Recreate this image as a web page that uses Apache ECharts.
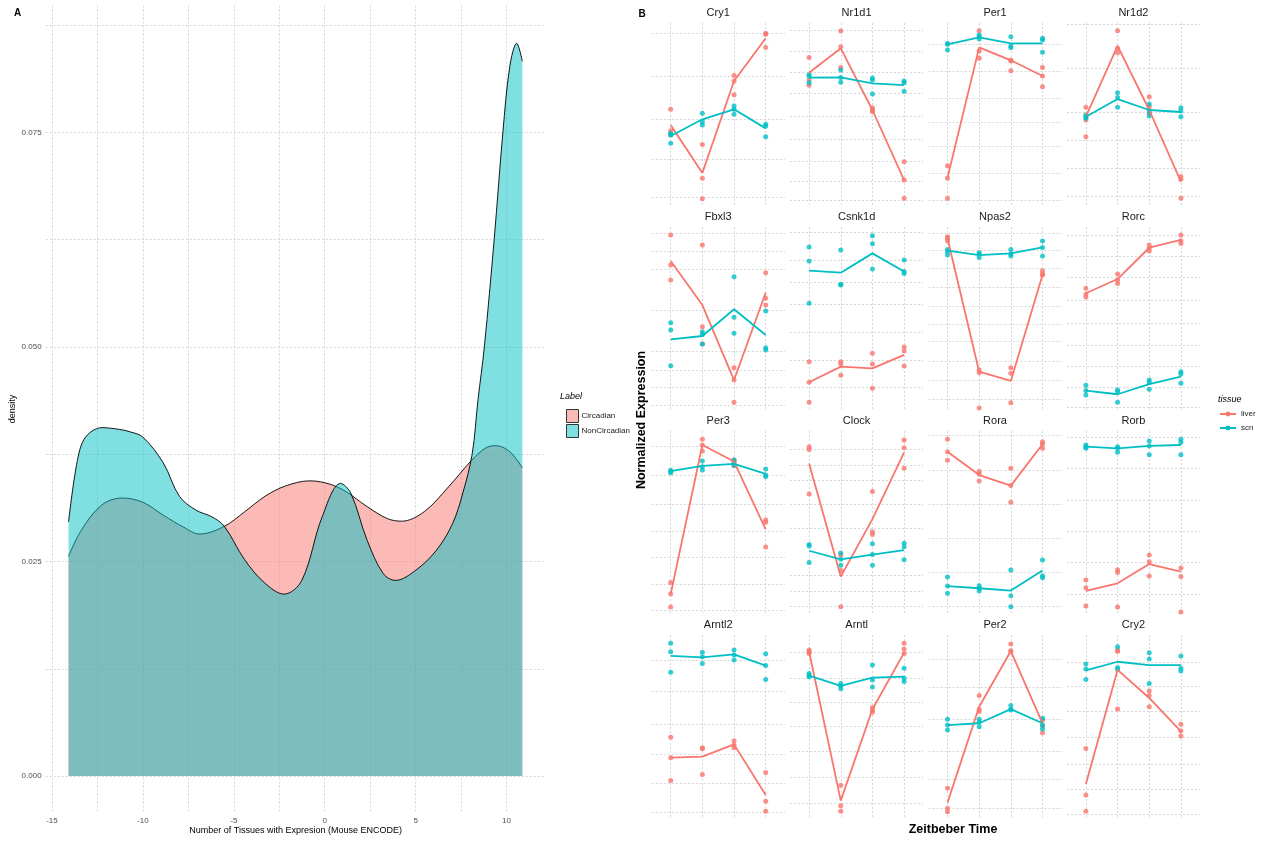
<!DOCTYPE html>
<html><head><meta charset="utf-8">
<script src="https://cdn.jsdelivr.net/npm/echarts@6/dist/echarts.min.js"></script>
<style>html,body{margin:0;padding:0;background:#fff}#c{width:1266px;height:841px}</style>
</head><body><div id="c"></div>
<script>
// ---------- Panel A: density curves ----------
const circX = [-14.09,-13.37,-12.25,-11.13,-10.0,-8.88,-7.76,-6.87,-5.52,-4.4,-3.28,-2.16,-0.81,0.31,1.2,2.33,3.45,4.23,5.47,6.81,8.04,8.83,9.39,10.18,10.87];
const circY = [0.0256,0.0287,0.0316,0.0324,0.0319,0.0304,0.0290,0.0282,0.0291,0.0308,0.0326,0.0338,0.0344,0.0340,0.0331,0.0314,0.0300,0.0297,0.0308,0.0337,0.0367,0.0382,0.0385,0.0378,0.0359];
const nonX = [-14.09,-13.6,-13.15,-12.25,-11.3,-10.68,-10.0,-8.88,-7.99,-7.09,-6.2,-5.52,-4.4,-3.3,-2.23,-1.26,-0.14,0.87,1.43,2.33,3.22,3.9,5.02,6.14,7.03,7.6,8.11,8.43,8.78,9.32,9.80,10.18,10.56,10.87];
const nonY = [0.0296,0.0368,0.0395,0.0406,0.0404,0.0401,0.0395,0.0365,0.0326,0.0310,0.0302,0.0291,0.0252,0.0225,0.0212,0.0228,0.0302,0.0341,0.0330,0.0275,0.0236,0.0228,0.0240,0.0263,0.0294,0.0330,0.0375,0.0438,0.0500,0.0625,0.0750,0.0827,0.0854,0.0833];
const aXTicks = [-15,-12.5,-10,-7.5,-5,-2.5,0,2.5,5,7.5,10];
const aXLabels = [-15,-10,-5,0,5,10];
const aYTicks = [0,0.0125,0.025,0.0375,0.05,0.0625,0.075,0.0875];
const aYLabels = [0,0.025,0.05,0.075];

// ---------- Panel B: expression per gene (replicates per time point) ----------
const times = [1,2,3,4];
const genes = ['Cry1','Nr1d1','Per1','Nr1d2','Fbxl3','Csnk1d','Npas2','Rorc','Per3','Clock','Rora','Rorb','Arntl2','Arntl','Per2','Cry2'];

const Cry1_liver = [[5.26,4.08,3.85],[3.32,1.47,0.35],[7.12,6.81,6.06],[9.43,9.38,8.66]];
const Cry1_liverMean = [4.40,1.76,6.81,9.16];
const Cry1_scn = [[3.94,3.85,3.39],[5.04,4.58,4.40],[5.44,5.26,4.98],[4.43,4.34,3.75]];
const Cry1_scnMean = [3.79,4.71,5.26,4.21];
const Cry1_grid = [0.42,2.53,4.71,7.05,9.43];

const Nr1d1_liver = [[8.11,6.87,6.58],[9.56,8.70,7.55],[5.35,5.22,5.13],[2.38,1.37,0.37]];
const Nr1d1_liverMean = [7.27,8.61,5.22,1.37];
const Nr1d1_scn = [[7.16,7.09,6.72],[7.42,7.00,6.74],[6.98,6.87,6.10],[6.81,6.72,6.25]];
const Nr1d1_scnMean = [7.00,7.01,6.68,6.59];
const Nr1d1_grid = [0.27,1.28,2.42,3.61,4.87,6.12,7.29,8.46,9.62];

const Per1_liver = [[2.16,1.47,0.37],[9.58,8.46,8.06],[7.97,7.91,7.38],[7.55,7.09,6.50]];
const Per1_liverMean = [1.50,8.66,7.95,7.09];
const Per1_scn = [[8.88,8.83,8.52],[9.34,9.25,9.12],[9.25,8.74,8.64],[9.16,9.07,8.39]];
const Per1_scnMean = [8.83,9.21,8.88,8.88];
const Per1_grid = [0.27,1.74,3.21,4.52,5.86,7.33,8.83];

const Nr1d2_liver = [[5.37,4.67,3.75],[9.58,8.61,8.37],[5.95,5.40,5.04],[1.56,1.41,0.37]];
const Nr1d2_liverMean = [4.85,8.74,5.22,1.28];
const Nr1d2_scn = [[4.95,4.85,4.76],[6.17,5.90,5.37],[5.55,5.13,4.89],[5.35,5.16,4.85]];
const Nr1d2_scnMean = [4.85,5.82,5.22,5.11];
const Nr1d2_grid = [0.49,2.01,3.57,5.09,7.51,9.95];

const Fbxl3_liver = [[9.56,7.91,7.09],[9.01,4.52,3.57],[2.27,1.59,0.37],[7.49,6.08,5.71]];
const Fbxl3_liverMean = [8.13,5.71,1.59,6.39];
const Fbxl3_scn = [[4.74,4.34,2.38],[4.25,4.10,3.57],[7.27,5.04,4.16],[5.38,3.37,3.24]];
const Fbxl3_scnMean = [3.83,4.01,5.48,4.07];
const Fbxl3_grid = [0.22,1.17,2.14,3.15,5.40,7.69,8.68,9.65];

const Csnk1d_liver = [[2.60,1.47,0.37],[2.60,2.47,1.85],[3.06,2.47,1.14],[3.41,3.19,2.36]];
const Csnk1d_liverMean = [1.47,2.33,2.23,2.97];
const Csnk1d_scn = [[8.90,8.13,5.81],[8.74,6.85,6.81],[9.52,9.08,7.69],[8.19,7.55,7.45]];
const Csnk1d_scnMean = [7.60,7.49,8.55,7.55];
const Csnk1d_grid = [1.17,2.67,4.21,5.75,6.94,8.19,9.71];

const Npas2_liver = [[9.47,9.38,9.25],[2.14,1.99,0.05],[2.27,1.96,0.35],[7.60,7.42,7.36]];
const Npas2_liverMean = [9.38,2.05,1.54,7.36];
const Npas2_scn = [[8.77,8.64,8.46],[8.59,8.52,8.32],[8.77,8.52,8.41],[9.23,8.88,8.41]];
const Npas2_scnMean = [8.70,8.46,8.55,8.88];
const Npas2_grid = [0.53,1.59,2.64,3.70,4.65,5.62,6.68,7.73,8.70,9.65];

const Rorc_liver = [[6.63,6.30,6.15],[7.42,7.09,6.90],[9.01,8.83,8.68],[9.56,9.25,9.10]];
const Rorc_liverMean = [6.36,7.14,8.86,9.29];
const Rorc_scn = [[1.31,1.01,0.77],[1.04,0.95,0.37],[1.59,1.45,1.08],[2.05,1.92,1.41]];
const Rorc_scnMean = [1.01,0.81,1.37,1.78];
const Rorc_grid = [0.1,1.19,2.36,3.52,4.71,5.99,7.22,8.37,9.56];

const Per3_liver = [[1.67,1.04,0.33],[9.54,9.23,8.90],[8.41,8.28,8.10],[5.11,4.98,3.63]];
const Per3_liverMean = [1.04,9.23,8.32,4.60];
const Per3_scn = [[7.84,7.77,7.71],[8.35,8.04,7.86],[8.41,8.22,8.10],[7.91,7.58,7.49]];
const Per3_scnMean = [7.80,8.08,8.19,7.64];
const Per3_grid = [0.13,1.58,3.04,4.51,5.97,7.55,9.14];

const Clock_liver = [[9.14,8.99,6.54],[3.19,2.33,0.35],[6.67,4.47,4.32],[9.51,9.08,7.95]];
const Clock_liverMean = [8.22,2.00,5.16,8.83];
const Clock_scn = [[3.77,3.68,2.78],[3.30,2.95,2.62],[3.81,3.21,2.62],[3.83,3.64,2.93]];
const Clock_scnMean = [3.42,2.95,3.21,3.46];
const Clock_grid = [0.35,1.21,2.05,4.65,5.97,7.27,8.10,8.99];

const Rora_liver = [[9.54,8.86,8.39],[7.77,7.64,7.25],[7.95,7.00,6.08],[9.41,9.29,9.05]];
const Rora_liverMean = [8.86,7.58,7.00,9.27];
const Rora_scn = [[1.98,1.48,1.08],[1.50,1.36,1.21],[2.36,0.95,0.35],[2.91,2.05,1.94]];
const Rora_scnMean = [1.48,1.36,1.23,2.33];
const Rora_grid = [0.35,2.22,4.10,5.99,7.86,9.74];

const Rorb_liver = [[1.81,1.39,0.38],[2.38,2.22,0.33],[3.19,2.82,2.03],[2.47,2.00,0.05]];
const Rorb_liverMean = [1.21,1.63,2.69,2.27];
const Rorb_scn = [[9.23,9.14,9.05],[9.14,9.05,8.83],[9.45,9.18,8.70],[9.54,9.38,8.70]];
const Rorb_scnMean = [9.14,9.05,9.18,9.23];
const Rorb_grid = [1.04,2.77,4.47,6.21,7.95,9.65];

const Arntl2_liver = [[4.38,3.26,2.01],[3.81,3.75,2.33],[4.19,3.96,3.81],[2.45,0.86,0.31]];
const Arntl2_liverMean = [3.26,3.32,3.99,1.21];
const Arntl2_scn = [[9.54,9.08,7.95],[9.05,8.81,8.44],[9.18,8.90,8.63],[8.97,8.32,7.56]];
const Arntl2_scnMean = [8.85,8.77,8.94,8.32];
const Arntl2_grid = [0.24,1.85,3.46,5.09,6.89,8.63];

const Arntl_liver = [[9.18,9.08,8.99],[1.74,0.62,0.31],[6.01,5.88,5.75],[9.54,9.23,8.99]];
const Arntl_liverMean = [9.08,0.90,5.92,9.03];
const Arntl_scn = [[7.89,7.78,7.71],[7.34,7.20,7.05],[8.35,7.53,7.14],[8.17,7.62,7.44]];
const Arntl_scnMean = [7.77,7.20,7.66,7.71];
const Arntl_grid = [0.75,2.18,3.59,5.00,6.30,7.62,9.03];

const Per2_liver = [[1.58,0.48,0.29],[6.68,5.92,5.79],[9.51,9.14,9.08],[5.33,5.02,4.63]];
const Per2_liverMean = [0.79,6.06,9.12,5.15];
const Per2_scn = [[5.37,5.05,4.78],[5.37,5.20,4.96],[6.12,5.92,5.88],[5.42,5.05,4.84]];
const Per2_scnMean = [5.05,5.15,5.93,5.15];
const Per2_grid = [0.48,2.07,3.63,5.38,7.11,8.68];

const Cry2_liver = [[3.77,1.21,0.31],[9.18,9.10,5.93],[6.92,6.68,6.06],[5.09,4.73,4.45]];
const Cry2_liverMean = [1.81,8.08,6.54,4.71];
const Cry2_scn = [[8.41,8.13,7.56],[9.36,8.21,8.11],[9.03,8.68,7.34],[8.85,8.17,8.02]];
const Cry2_scnMean = [8.05,8.53,8.35,8.35];
const Cry2_grid = [0.16,1.52,2.89,4.36,5.79,7.16,8.53];

const geneData = {
  Cry1:[Cry1_liver,Cry1_liverMean,Cry1_scn,Cry1_scnMean,Cry1_grid],
  Nr1d1:[Nr1d1_liver,Nr1d1_liverMean,Nr1d1_scn,Nr1d1_scnMean,Nr1d1_grid],
  Per1:[Per1_liver,Per1_liverMean,Per1_scn,Per1_scnMean,Per1_grid],
  Nr1d2:[Nr1d2_liver,Nr1d2_liverMean,Nr1d2_scn,Nr1d2_scnMean,Nr1d2_grid],
  Fbxl3:[Fbxl3_liver,Fbxl3_liverMean,Fbxl3_scn,Fbxl3_scnMean,Fbxl3_grid],
  Csnk1d:[Csnk1d_liver,Csnk1d_liverMean,Csnk1d_scn,Csnk1d_scnMean,Csnk1d_grid],
  Npas2:[Npas2_liver,Npas2_liverMean,Npas2_scn,Npas2_scnMean,Npas2_grid],
  Rorc:[Rorc_liver,Rorc_liverMean,Rorc_scn,Rorc_scnMean,Rorc_grid],
  Per3:[Per3_liver,Per3_liverMean,Per3_scn,Per3_scnMean,Per3_grid],
  Clock:[Clock_liver,Clock_liverMean,Clock_scn,Clock_scnMean,Clock_grid],
  Rora:[Rora_liver,Rora_liverMean,Rora_scn,Rora_scnMean,Rora_grid],
  Rorb:[Rorb_liver,Rorb_liverMean,Rorb_scn,Rorb_scnMean,Rorb_grid],
  Arntl2:[Arntl2_liver,Arntl2_liverMean,Arntl2_scn,Arntl2_scnMean,Arntl2_grid],
  Arntl:[Arntl_liver,Arntl_liverMean,Arntl_scn,Arntl_scnMean,Arntl_grid],
  Per2:[Per2_liver,Per2_liverMean,Per2_scn,Per2_scnMean,Per2_grid],
  Cry2:[Cry2_liver,Cry2_liverMean,Cry2_scn,Cry2_scnMean,Cry2_grid]
};

// ---------- build chart ----------
const FONT = '"Liberation Sans", Arial, sans-serif';
const RED = '#F8766D', CYAN = '#00BFC4';
const gridLine = {show:true, lineStyle:{color:'#cccccc', width:0.8, type:[2,2]}};

const grids = [], xAxes = [], yAxes = [], series = [], graphics = [];

// Panel A
grids.push({left:45.6, top:5.5, width:500, height:807.4});
xAxes.push({gridIndex:0, type:'value', min:-15.35, max:12.15,
  axisLine:{show:false}, axisTick:{show:false, customValues:aXTicks},
  axisLabel:{show:true, customValues:aXLabels, fontSize:8, color:'#4d4d4d', fontFamily:FONT, margin:4},
  splitLine:gridLine});
yAxes.push({gridIndex:0, type:'value', min:-0.0043, max:0.0898,
  axisLine:{show:false}, axisTick:{show:false, customValues:aYTicks},
  axisLabel:{show:true, customValues:aYLabels, fontSize:8, color:'#4d4d4d', fontFamily:FONT, margin:4,
    formatter:v=>Number(v).toFixed(3)},
  splitLine:gridLine});
const zip = (xs, ys) => xs.map((x,i)=>[x, ys[i]]);
series.push({name:'Circadian', type:'line', xAxisIndex:0, yAxisIndex:0, data:zip(circX,circY),
  smooth:0.35, showSymbol:false, symbol:'none', lineStyle:{color:'#000', width:0.9},
  itemStyle:{color:RED}, areaStyle:{color:RED, opacity:0.5}, z:2, silent:true});
series.push({name:'NonCircadian', type:'line', xAxisIndex:0, yAxisIndex:0, data:zip(nonX,nonY),
  smooth:0.35, showSymbol:false, symbol:'none', lineStyle:{color:'#000', width:0.9},
  itemStyle:{color:CYAN}, areaStyle:{color:CYAN, opacity:0.5}, z:3, silent:true});

// Panel B facets
const colLeft = [651.7, 790.1, 928.5, 1066.9];
const rowTop = [23, 227, 431, 635];
const FW = 133, FH = 182;
const lineSeries = [], pointSeries = [];
genes.forEach((g, i) => {
  const r = Math.floor(i/4), c = i%4;
  const gi = i + 1;
  const [liver, liverMean, scn, scnMean, gridVals] = geneData[g];
  grids.push({left:colLeft[c], top:rowTop[r], width:FW, height:FH});
  xAxes.push({gridIndex:gi, type:'value', min:0.4, max:4.6,
    axisLine:{show:false}, axisTick:{show:false, customValues:times}, axisLabel:{show:false}, splitLine:gridLine});
  yAxes.push({gridIndex:gi, type:'value', min:0, max:10,
    axisLine:{show:false}, axisTick:{show:false, customValues:gridVals}, axisLabel:{show:false}, splitLine:gridLine});
  const pts = reps => { const out=[]; reps.forEach((vals,t)=>vals.forEach(v=>out.push([times[t], v]))); return out; };
  pointSeries.push({name:'liver', type:'scatter', xAxisIndex:gi, yAxisIndex:gi, data:pts(liver), symbolSize:5, itemStyle:{color:RED}, z:2, silent:true});
  pointSeries.push({name:'scn', type:'scatter', xAxisIndex:gi, yAxisIndex:gi, data:pts(scn), symbolSize:5, itemStyle:{color:CYAN}, z:2, silent:true});
  lineSeries.push({name:'liver', type:'line', xAxisIndex:gi, yAxisIndex:gi, data:zip(times, liverMean), symbol:'circle', symbolSize:5, showSymbol:false,
    lineStyle:{color:RED, width:1.8}, itemStyle:{color:RED}, z:3, silent:true});
  lineSeries.push({name:'scn', type:'line', xAxisIndex:gi, yAxisIndex:gi, data:zip(times, scnMean), symbol:'circle', symbolSize:5, showSymbol:false,
    lineStyle:{color:CYAN, width:1.8}, itemStyle:{color:CYAN}, z:3, silent:true});
  graphics.push({type:'text', x:colLeft[c]+FW/2, y:rowTop[r]-10.5, silent:true,
    style:{text:g, font:'11px '+FONT, fill:'#1a1a1a', align:'center', verticalAlign:'middle'}});
});
series.push(...lineSeries, ...pointSeries);

// Texts
const T = (text, x, y, font, extra) => Object.assign({type:'text', x, y, silent:true,
  style:{text, font, fill:'#000', align:'center', verticalAlign:'middle'}}, extra||{});
graphics.push(T('A', 17.5, 13, 'bold 10px '+FONT));
graphics.push(T('B', 642, 14, 'bold 10px '+FONT));
graphics.push(T('density', 13, 409, '9px '+FONT, {rotation:Math.PI/2}));
graphics.push(T('Number of Tissues with Expresion (Mouse ENCODE)', 295.6, 831, '9px '+FONT));
graphics.push(T('Normalized Expression', 642, 420, 'bold 12.5px '+FONT, {rotation:Math.PI/2}));
graphics.push(T('Zeitbeber Time', 953, 830, 'bold 12.5px '+FONT));
graphics.push({type:'text', x:560, y:396, silent:true, style:{text:'Label', font:'italic 9px '+FONT, fill:'#000', align:'left', verticalAlign:'middle'}});
graphics.push({type:'text', x:1218, y:399, silent:true, style:{text:'tissue', font:'italic 9px '+FONT, fill:'#000', align:'left', verticalAlign:'middle'}});

const option = {
  animation:false,
  backgroundColor:'#ffffff',
  grid:grids, xAxis:xAxes, yAxis:yAxes, series,
  legend:[
    {orient:'vertical', left:561, top:404, itemWidth:12, itemHeight:13, itemGap:1, icon:'rect', selectedMode:false,
     textStyle:{fontSize:8, color:'#1a1a1a', fontFamily:FONT, padding:[0,0,0,-2]},
     data:[{name:'Circadian', itemStyle:{color:'rgba(248,118,109,0.5)', borderColor:'#333', borderWidth:1}},
           {name:'NonCircadian', itemStyle:{color:'rgba(0,191,196,0.5)', borderColor:'#333', borderWidth:1}}]},
    {orient:'vertical', left:1214, top:405, itemWidth:16, itemHeight:6, itemGap:6, selectedMode:false,
     textStyle:{fontSize:8, color:'#1a1a1a', fontFamily:FONT},
     data:['liver','scn']}
  ],
  graphic:graphics
};
const chart = echarts.init(document.getElementById('c'), null, {renderer:'canvas'});
chart.setOption(option);
</script></body></html>
